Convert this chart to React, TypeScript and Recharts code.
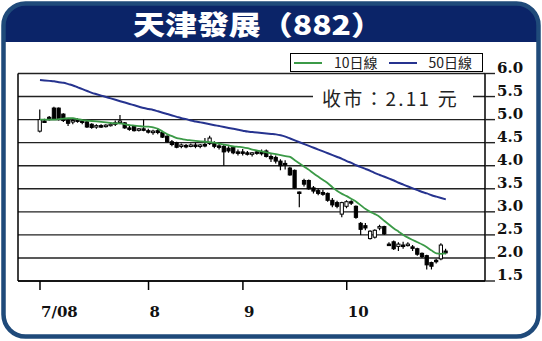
import {
  ComposedChart,
  Bar,
  Line,
  XAxis,
  YAxis,
  CartesianGrid,
  ReferenceLine,
  Legend,
} from "recharts";

// trading-day index of each month's first session
const monthTicks = [0, 23, 43, 65];
const monthLabels = ["7/08", "8", "9", "10"];
const priceTicks = [1.5, 2.0, 2.5, 3.0, 3.5, 4.0, 4.5, 5.0, 5.5, 6.0];

const opens = [
  4.75, 4.97, 5.05, 5.25, 5.25, 5.12, 4.98, 4.95, 5.0, 4.97,
  4.95, 4.9, 4.85, 4.87, 4.86, 4.88, 4.92, 4.95, 4.93, 4.82,
  4.86, 4.78, 4.8, 4.76, 4.72, 4.76, 4.72, 4.64, 4.52, 4.5,
  4.42, 4.44, 4.42, 4.45, 4.43, 4.46, 4.48, 4.5, 4.43, 4.42,
  4.38, 4.4, 4.3, 4.3, 4.28, 4.26, 4.3, 4.3, 4.32, 4.2,
  4.18, 4.1, 4.05, 3.95, 3.9, 3.43, 3.68, 3.68, 3.52, 3.46,
  3.42, 3.4, 3.25, 3.2, 2.95, 3.12, 3.22, 3.12, 2.75, 2.7,
  2.42, 2.45, 2.65, 2.68, 2.3, 2.35, 2.25, 2.28, 2.28, 2.24,
  2.2, 2.1, 2.05, 1.9, 1.95, 1.98, 2.15,
];
const highs = [
  5.22, 5.02, 5.08, 5.28, 5.26, 5.14, 5.0, 5.02, 5.03, 5.0,
  4.97, 4.92, 4.9, 4.9, 4.9, 4.93, 4.98, 5.1, 4.95, 4.87,
  4.88, 4.82, 5.0, 4.8, 4.78, 4.8, 4.74, 4.66, 4.56, 4.52,
  4.48, 4.47, 4.48, 4.5, 4.47, 4.6, 4.65, 4.53, 4.48, 4.45,
  4.42, 4.42, 4.35, 4.36, 4.32, 4.3, 4.33, 4.35, 4.35, 4.25,
  4.22, 4.14, 4.12, 3.98, 3.92, 3.44, 3.72, 3.7, 3.56, 3.5,
  3.48, 3.42, 3.3, 3.24, 3.22, 3.25, 3.25, 3.14, 2.78, 2.76,
  2.6, 2.62, 2.72, 2.7, 2.34, 2.38, 2.34, 2.35, 2.34, 2.28,
  2.22, 2.12, 2.07, 1.92, 1.98, 2.32, 2.2,
];
const lows = [
  4.72, 4.93, 4.98, 5.0, 4.98, 4.95, 4.86, 4.9, 4.93, 4.9,
  4.82, 4.8, 4.8, 4.82, 4.83, 4.85, 4.86, 4.9, 4.8, 4.76,
  4.74, 4.74, 4.75, 4.7, 4.67, 4.68, 4.6, 4.5, 4.42, 4.38,
  4.38, 4.38, 4.4, 4.38, 4.38, 4.4, 4.45, 4.38, 4.35, 4.0,
  4.28, 4.25, 4.22, 4.22, 4.22, 4.2, 4.24, 4.22, 4.18, 4.08,
  4.05, 3.9, 3.92, 3.78, 3.5, 3.1, 3.55, 3.48, 3.4, 3.36,
  3.35, 3.22, 3.1, 3.08, 2.88, 3.08, 3.15, 2.85, 2.5, 2.6,
  2.4, 2.42, 2.6, 2.5, 2.26, 2.17, 2.15, 2.2, 2.25, 2.15,
  2.05, 2.0, 1.75, 1.75, 1.88, 1.95, 2.08,
];
const closes = [
  5.0, 4.95, 5.0, 5.02, 5.0, 4.98, 4.92, 4.98, 4.96, 4.95,
  4.84, 4.83, 4.87, 4.85, 4.88, 4.9, 4.93, 4.97, 4.82, 4.8,
  4.76, 4.8, 4.78, 4.74, 4.75, 4.72, 4.62, 4.52, 4.46, 4.4,
  4.45, 4.42, 4.45, 4.43, 4.45, 4.44, 4.6, 4.42, 4.4, 4.3,
  4.32, 4.28, 4.3, 4.28, 4.25, 4.28, 4.27, 4.26, 4.2, 4.15,
  4.1, 4.0, 4.02, 3.8, 3.52, 3.41, 3.6, 3.5, 3.45, 3.4,
  3.38, 3.25, 3.15, 3.12, 3.2, 3.22, 3.2, 2.88, 2.62, 2.65,
  2.58, 2.6, 2.68, 2.52, 2.3, 2.2, 2.3, 2.25, 2.3, 2.22,
  2.08, 2.03, 1.85, 1.82, 1.92, 2.28, 2.11,
];
const ma10 = [
  5.0, 5.0, 5.0, 5.0, 5.01, 5.02, 5.03, 5.03, 5.01, 4.99,
  4.98, 4.97, 4.96, 4.95, 4.94, 4.93, 4.92, 4.92, 4.9, 4.88,
  4.87, 4.86, 4.85, 4.85, 4.83, 4.8, 4.74, 4.68, 4.64, 4.6,
  4.58, 4.56, 4.55, 4.54, 4.53, 4.52, 4.51, 4.5, 4.48, 4.46,
  4.44, 4.42, 4.41, 4.4, 4.38, 4.35, 4.33, 4.31, 4.29, 4.27,
  4.25, 4.23, 4.21, 4.19, 4.12, 4.05, 3.98, 3.91, 3.83, 3.76,
  3.69, 3.62, 3.53, 3.45, 3.39, 3.34, 3.28, 3.22, 3.14, 3.06,
  3.0, 2.95, 2.89, 2.8, 2.72, 2.64, 2.57, 2.5, 2.44, 2.39,
  2.34, 2.29, 2.23, 2.16, 2.1, 2.09, 2.1,
];
const ma50 = [
  5.86, 5.85, 5.84, 5.83, 5.81, 5.8, 5.77, 5.74, 5.7, 5.66,
  5.62, 5.58, 5.55, 5.52, 5.49, 5.46, 5.43, 5.4, 5.37, 5.34,
  5.31, 5.28, 5.25, 5.23, 5.21, 5.18, 5.15, 5.12, 5.09, 5.06,
  5.03, 5.01, 4.98, 4.96, 4.94, 4.92, 4.9, 4.88, 4.86, 4.84,
  4.82, 4.8, 4.78, 4.76, 4.74, 4.73, 4.72, 4.71, 4.7, 4.69,
  4.68, 4.66, 4.63, 4.59, 4.55, 4.51, 4.47, 4.43, 4.39, 4.35,
  4.31, 4.27, 4.23, 4.19, 4.15, 4.1, 4.06, 4.01, 3.97, 3.93,
  3.89, 3.84, 3.8, 3.76, 3.72, 3.68, 3.63, 3.59, 3.55, 3.51,
  3.47, 3.43, 3.4, 3.36, 3.33, 3.3, 3.27,
];

const GREEN = "#3b9a47";
const NAVY = "#26338f";
const FRAME = "#1f4a7a";
const BAND = "#0b2468";
const X_DOMAIN = [-4.66, 94.3];

const data = closes.map((c, i) => ({
  i,
  open: opens[i],
  high: highs[i],
  low: lows[i],
  close: c,
  range: [lows[i], highs[i]],
  ma10: ma10[i],
  ma50: ma50[i],
}));

const Candle = (props: any) => {
  const { x, y, width, height, payload } = props;
  if (x == null || y == null) return null;
  const top = Math.min(y, y + height);
  const h = Math.abs(height);
  const k = h / (payload.high - payload.low || 1);
  const cx = x + width / 2;
  const yO = top + (payload.high - payload.open) * k;
  const yC = top + (payload.high - payload.close) * k;
  const up = payload.close > payload.open;
  const bTop = Math.min(yO, yC);
  const bH = Math.max(Math.abs(yO - yC), 1.5);
  return (
    <g>
      <line x1={cx} x2={cx} y1={top} y2={top + h} stroke="#000" strokeWidth={1.2} />
      <rect
        x={x + 0.5}
        y={bTop}
        width={width - 1}
        height={bH}
        fill={up ? "#fff" : "#000"}
        stroke="#000"
        strokeWidth={1}
      />
    </g>
  );
};

const PriceTick = (props: any) => {
  const { x, y, payload } = props;
  return (
    <text
      x={x}
      y={y - 1}
      fontFamily="DejaVu Serif"
      fontWeight="bold"
      fontSize={15}
      fill="#111"
      textAnchor="start"
    >
      {Number(payload.value).toFixed(1)}
    </text>
  );
};

const MonthTick = (props: any) => {
  const { x, y, payload } = props;
  const idx = monthTicks.indexOf(payload.value);
  return (
    <text
      x={x + 1}
      y={y + 25}
      fontFamily="DejaVu Serif"
      fontWeight="bold"
      fontSize={15}
      fill="#111"
      textAnchor="start"
    >
      {monthLabels[idx]}
    </text>
  );
};

const legendItems = [
  { label: "10日線", color: GREEN },
  { label: "50日線", color: NAVY },
];

const LegendBox = () => (
  <div
    style={{
      display: "flex",
      alignItems: "center",
      height: 17,
      border: "1px solid #000",
      background: "#fff",
      fontFamily: "'Noto Sans CJK TC', 'Noto Sans', sans-serif",
      fontSize: 14,
      color: "#222",
      lineHeight: "17px",
    }}
  >
    {legendItems.map((it) => (
      <div key={it.label} style={{ display: "flex", alignItems: "center", marginLeft: 3 }}>
        <div style={{ width: 28, height: 2, background: it.color, marginRight: 12 }} />
        <span style={{ marginRight: 8 }}>{it.label}</span>
      </div>
    ))}
  </div>
);

export default function App() {
  return (
    <div
      style={{
        position: "absolute",
        left: 0,
        top: 0,
        width: 542,
        height: 341,
        background: "#fff",
      }}
    >
      <svg width={542} height={341} style={{ position: "absolute", left: 0, top: 0 }}>
        <defs>
          <clipPath id="frameClip">
            <rect x={3.5} y={3.5} width={535} height={333} rx={22} />
          </clipPath>
        </defs>
        <rect x={3.5} y={3.5} width={535} height={333} rx={22} fill="#fff" />
        <rect x={0} y={0} width={542} height={42} fill={BAND} clipPath="url(#frameClip)" />
        <rect
          x={3.5}
          y={3.5}
          width={535}
          height={333}
          rx={22}
          fill="none"
          stroke={FRAME}
          strokeWidth={4.5}
        />
        <text
          x={258}
          y={35}
          textAnchor="middle"
          fill="#fff"
          fontFamily="'Noto Sans CJK TC'"
          fontWeight={900}
          fontSize={27}
          textLength={250}
          lengthAdjust="spacingAndGlyphs"
        >
          天津發展（882）
        </text>
      </svg>

      <div style={{ position: "absolute", left: 0, top: 0 }}>
        <ComposedChart
          width={542}
          height={341}
          data={data}
          margin={{ top: 73.5, left: 18, right: 7, bottom: 20 }}
        >
          <CartesianGrid horizontal vertical={false} stroke="#222" strokeWidth={1.4} />
          <XAxis
            dataKey="i"
            type="number"
            domain={X_DOMAIN}
            ticks={monthTicks}
            allowDataOverflow
            height={40}
            tickSize={9}
            tickMargin={2}
            axisLine={{ stroke: "#000", strokeWidth: 1.5 }}
            tickLine={{ stroke: "#000", strokeWidth: 1.5 }}
            tick={<MonthTick />}
          />
          <YAxis
            orientation="right"
            domain={[1.5, 6.0]}
            ticks={priceTicks}
            allowDataOverflow
            width={50}
            tickSize={10}
            tickMargin={2}
            axisLine={{ stroke: "#000", strokeWidth: 1.5 }}
            tickLine={{ stroke: "#222", strokeWidth: 1.4 }}
            tick={<PriceTick />}
          />
          <ReferenceLine x={X_DOMAIN[0]} stroke="#000" strokeWidth={1.5} />
          <Legend
            verticalAlign="middle"
            layout="horizontal"
            content={<LegendBox />}
            wrapperStyle={{ left: 290, top: 53, width: 193, height: 19 }}
          />
          <Bar
            dataKey="range"
            barSize={5}
            shape={<Candle />}
            isAnimationActive={false}
            legendType="none"
          />
          <Line
            type="monotone"
            dataKey="ma50"
            stroke={NAVY}
            strokeWidth={2}
            dot={false}
            isAnimationActive={false}
          />
          <Line
            type="monotone"
            dataKey="ma10"
            stroke={GREEN}
            strokeWidth={1.8}
            dot={false}
            isAnimationActive={false}
          />
        </ComposedChart>
      </div>

      <div
        style={{
          position: "absolute",
          left: 313,
          top: 86,
          width: 160,
          height: 23,
          background: "#fff",
          fontFamily: "'Noto Sans CJK TC', 'Liberation Sans', sans-serif",
          fontSize: 19,
          lineHeight: "23px",
          letterSpacing: 2.2,
          whiteSpace: "nowrap",
          color: "#222",
          paddingLeft: 9,
          boxSizing: "border-box",
        }}
      >
        收市：2.11 元
      </div>
    </div>
  );
}
